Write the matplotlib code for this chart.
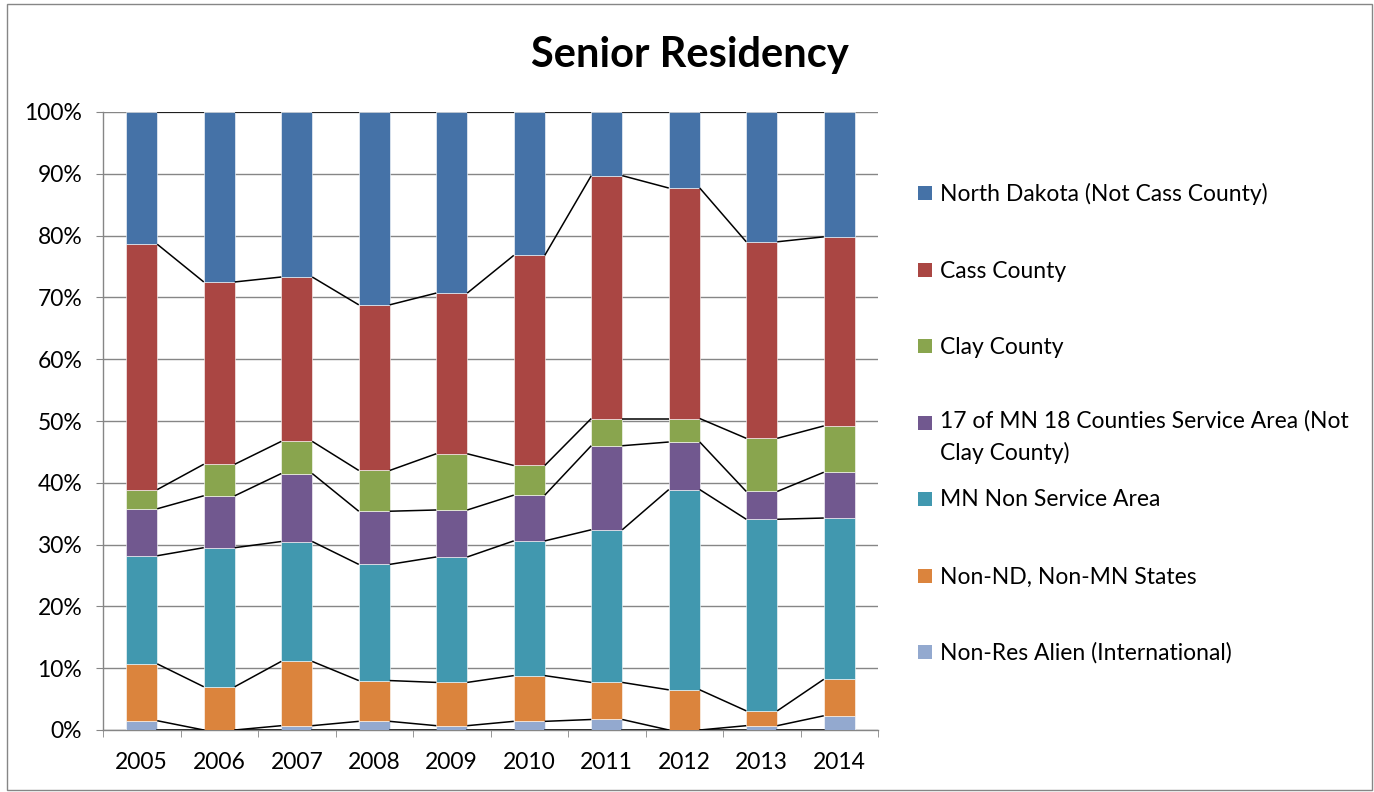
import matplotlib
matplotlib.use("Agg")
import matplotlib.pyplot as plt
from matplotlib.patches import Rectangle
import numpy as np

plt.rcParams['font.family'] = ['Lato', 'DejaVu Sans']

years = ["2005", "2006", "2007", "2008", "2009", "2010", "2011", "2012", "2013", "2014"]
non_res_alien = [1.5, 0.0, 0.7, 1.4, 0.7, 1.4, 1.7, 0.0, 0.7, 2.3]
non_nd_mn = [9.2, 7.0, 10.4, 6.6, 7.0, 7.4, 6.0, 6.5, 2.4, 5.9]
mn_non_service = [17.5, 22.5, 19.4, 18.8, 20.3, 21.8, 24.7, 32.4, 31.0, 26.1]
mn_17_service = [7.6, 8.4, 11.0, 8.6, 7.6, 7.4, 13.6, 7.7, 4.5, 7.4]
clay_county = [3.1, 5.1, 5.2, 6.6, 9.1, 4.8, 4.4, 3.8, 8.6, 7.5]
cass_county = [39.7, 29.5, 26.6, 26.8, 26.0, 34.0, 39.3, 37.3, 31.8, 30.6]
north_dakota = [21.4, 27.5, 26.7, 31.2, 29.3, 23.2, 10.3, 12.3, 21.0, 20.2]

series_names = [
    "Non-Res Alien (International)",
    "Non-ND, Non-MN States",
    "MN Non Service Area",
    "17 of MN 18 Counties Service Area (Not\nClay County)",
    "Clay County",
    "Cass County",
    "North Dakota (Not Cass County)",
]
series = [non_res_alien, non_nd_mn, mn_non_service, mn_17_service,
          clay_county, cass_county, north_dakota]
colors = ["#93A9CF", "#DB843D", "#4198AF", "#71588F", "#89A54E", "#AA4643", "#4572A7"]

data = np.array(series, dtype=float)
data = data / data.sum(axis=0) * 100.0

W, H = 1374, 792
fig = plt.figure(figsize=(W / 100, H / 100), dpi=100)
fig.patch.set_facecolor("white")
fig.patches.append(Rectangle((7 / W, 2 / H), 1365 / W, 786 / H, transform=fig.transFigure,
                             fill=False, edgecolor="#868686", linewidth=1.0))

ax = fig.add_axes([103 / W, (H - 730) / H, 775 / W, 618 / H])
x = np.arange(len(years))
bw = 0.4
bottom = np.zeros(len(years))
for vals, col in zip(data, colors):
    ax.bar(x, vals, bw, bottom=bottom, color=col, edgecolor="white", linewidth=0.4, zorder=3)
    bottom = bottom + vals
    for i in range(len(years) - 1):
        ax.plot([x[i] + bw / 2, x[i + 1] - bw / 2], [bottom[i], bottom[i + 1]],
                color="black", linewidth=1.1, zorder=4, solid_capstyle="butt")

for i in range(len(years) - 1):
    ax.plot([x[i] + bw / 2, x[i + 1] - bw / 2], [0, 0], color="black", linewidth=1.1, zorder=4)

ax.set_xlim(-0.5, len(years) - 0.5)
ax.set_ylim(0, 100)
ax.set_yticks(np.arange(0, 101, 10))
ax.set_yticklabels([f"{v}%" for v in range(0, 101, 10)], fontsize=16.5)
ax.set_xticks(x)
ax.set_xticklabels(years, fontsize=16.5)
ax.set_xticks(np.arange(-0.5, len(years), 1.0), minor=True)
ax.tick_params(axis="x", which="major", length=0, pad=16)
ax.tick_params(axis="x", which="minor", length=5, color="#868686", direction="out")
ax.tick_params(axis="y", length=5, color="#868686", direction="out", pad=10)
ax.grid(axis="y", color="#868686", linewidth=1.0, zorder=0)
ax.set_axisbelow(True)
for s in ["top", "right"]:
    ax.spines[s].set_visible(False)
for s in ["left", "bottom"]:
    ax.spines[s].set_color("#868686")
    ax.spines[s].set_linewidth(1.0)

fig.text(690 / W, 1 - 55 / H, "Senior Residency", ha="center", va="center",
         fontsize=30, fontweight="bold")

legend_y = [193, 270, 346, 423, 499, 576, 652]
for yy, name, col in zip(legend_y, series_names[::-1], colors[::-1]):
    fig.patches.append(Rectangle((918 / W, 1 - (yy + 7) / H), 14 / W, 14 / H,
                                 transform=fig.transFigure, facecolor=col, edgecolor="none"))
    if "\n" in name:
        fig.text(940 / W, 1 - (yy - 13) / H, name, ha="left", va="top",
                 fontsize=16.5, linespacing=1.6)
    else:
        fig.text(940 / W, 1 - (yy + 1) / H, name, ha="left", va="center", fontsize=16.5)

fig.savefig("out.png", dpi=100)
